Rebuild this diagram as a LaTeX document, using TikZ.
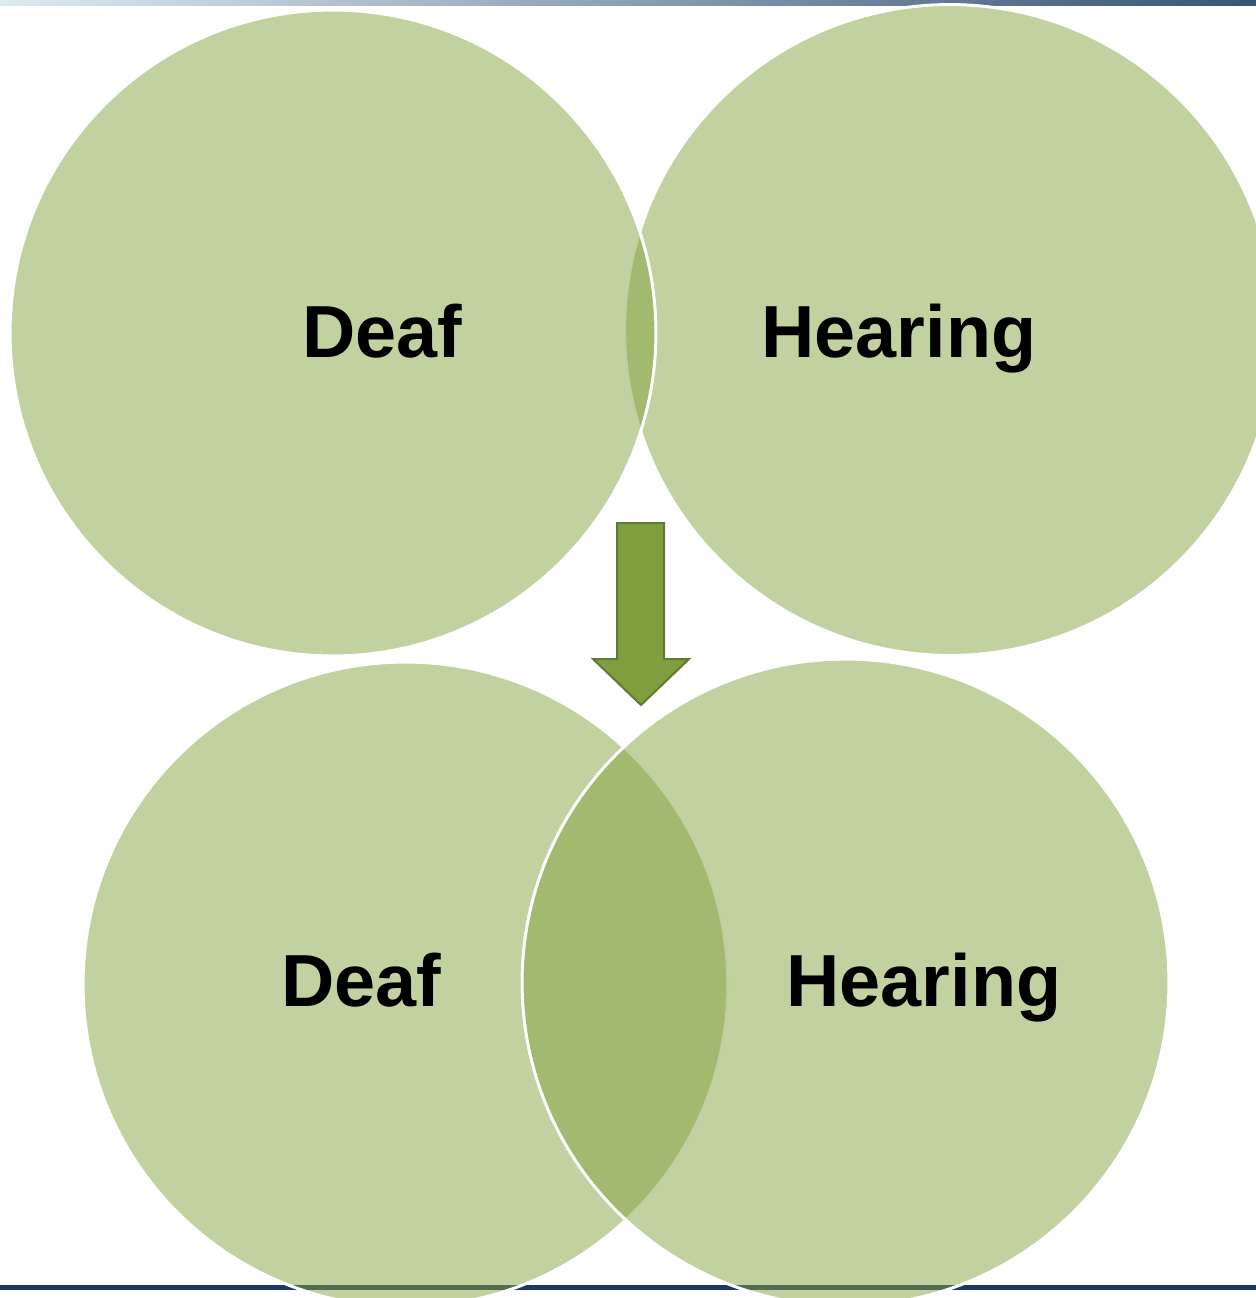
\documentclass[tikz,border=0pt]{standalone}
\usepackage{fontspec}
\setmainfont{Liberation Sans}
\usetikzlibrary{positioning}
\definecolor{venngreen}{RGB}{132,163,65}
\definecolor{arrowgreen}{RGB}{128,158,62}
\definecolor{arrowedge}{RGB}{96,122,46}
\definecolor{rulenavy}{RGB}{30,55,98}
\definecolor{barlight}{RGB}{222,234,242}
\definecolor{barmid}{RGB}{178,198,214}
\definecolor{bardark}{RGB}{56,84,118}

\begin{document}
\begin{tikzpicture}[x=0.02cm, y=-0.02cm,
  vennset/.style={circle, draw=white, line width=0.06cm, fill=venngreen,
                  fill opacity=0.5, draw opacity=1, inner sep=0pt, minimum size=#1},
  setlabel/.style={font=\fontsize{42}{50}\selectfont\bfseries, anchor=base, inner sep=0pt},
  downarrow/.style={fill=arrowgreen, draw=arrowedge, line width=0.04cm, line join=miter}
]
\useasboundingbox (0,0) rectangle (1256,1298);
\clip (0,0) rectangle (1256,1298);

% frame rules
\shade[left color=barlight, middle color=barmid, right color=bardark] (0,0) rectangle (1256,5);
\fill[rulenavy] (0,1285) rectangle (1256,1290);

% separate sets
\node[vennset=13.02cm] (hTop) at (950,330) {};
\node[vennset=12.92cm] (dTop) at (333,333) {};
\node[setlabel] (dTopText) at (382,357) {Deaf};
\node[setlabel] (hTopText) at (899,357) {Hearing};

% arrow
\draw[downarrow] (617,523) -- (664,523) -- (664,659) -- (689,659)
  -- (641,705) -- (593,659) -- (617,659) -- cycle;

% overlapping sets
\node[vennset=12.90cm] (dBot) at (405.5,984.5) {};
\node[vennset=12.94cm] (hBot) at (845.5,982.5) {};
\node[setlabel] (dBotText) at (361,1006) {Deaf};
\node[setlabel] (hBotText) at (924,1006) {Hearing};
\end{tikzpicture}
\end{document}
